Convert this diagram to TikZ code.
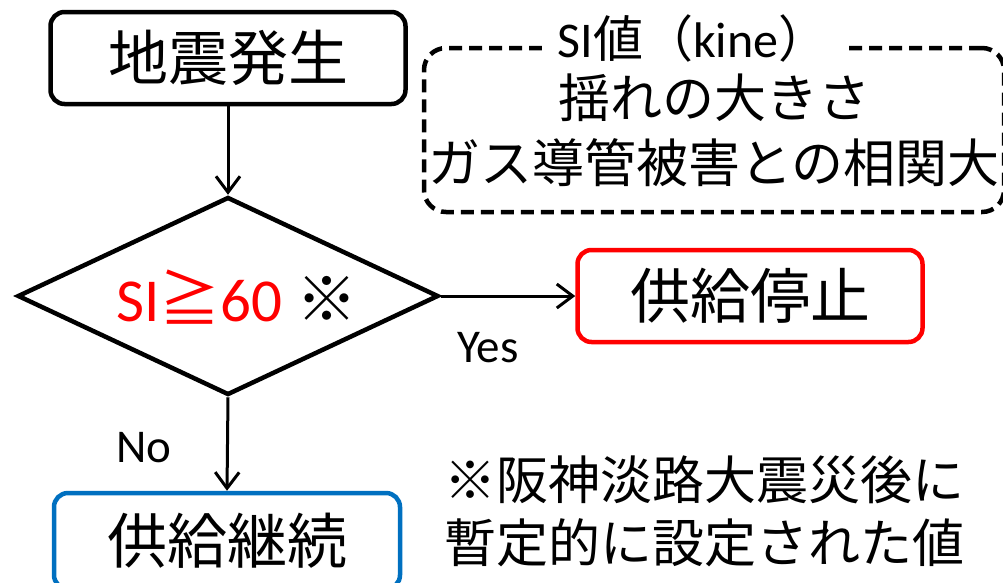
\documentclass[tikz,border=0pt]{standalone}
\usepackage{fontspec}
\setmainfont{Carlito}
\newfontfamily\jp{Noto Sans CJK JP}
\usetikzlibrary{arrows.meta,shapes.geometric}
\definecolor{myblue}{HTML}{0070C0}
\begin{document}
\begin{tikzpicture}[x=1pt,y=-1pt,
  procbox/.style={draw, line width=4.5pt, rounded corners=14pt, inner sep=0pt, font=\jp\fontsize{60}{60}\selectfont},
  flow/.style={line width=3pt, -{Straight Barb[length=16pt,width=24pt,line width=3pt]}},
  lab/.style={font=\fontsize{47}{47}\selectfont, inner sep=0pt},
]
\useasboundingbox (0,0) rectangle (1003,582);
\node[procbox, minimum width=355pt, minimum height=92pt] (start) at (228,58) {地震発生};
\node[draw, diamond, line width=4.5pt, inner sep=0pt, minimum width=421pt, minimum height=198pt] (dec) at (228,296) {};
\node[inner sep=0pt, font=\fontsize{61}{61}\selectfont, anchor=west] (cond) at (116,297)
  {\textcolor{red}{SI{\jp ≧}60} {\jp ※}};
\node[procbox, draw=red, minimum width=345pt, minimum height=92pt] (stop) at (750,296) {供給停止};
\node[procbox, draw=myblue, minimum width=346pt, minimum height=96pt] (cont) at (227,541) {供給継続};
\node[draw, dash pattern=on 13pt off 7pt, line width=4.5pt, rounded corners=22pt,
  minimum width=580pt, minimum height=164pt, inner sep=0pt, align=center,
  font=\jp\fontsize{52}{65}\selectfont] (info) at (714,130) {揺れの大きさ\\ガス導管被害との相関大};
\node[fill=white, inner xsep=16pt, inner ysep=2pt, font=\fontsize{50}{50}\selectfont] (title) at (693,38)
  {SI{\jp 値（}kine{\jp ）}};
\node[inner sep=0pt, align=center, font=\jp\fontsize{52}{63}\selectfont] (note) at (704,511)
  {※阪神淡路大震災後に\\暫定的に設定された値};
\draw[flow] (start) -- (dec.north);
\draw[flow] (dec.east) -- (stop.west);
\draw[flow] (dec.south) -- (cont.north);
\node[lab] (yes) at (488,348) {Yes};
\node[lab] (no) at (144,448) {No};
\end{tikzpicture}
\end{document}
